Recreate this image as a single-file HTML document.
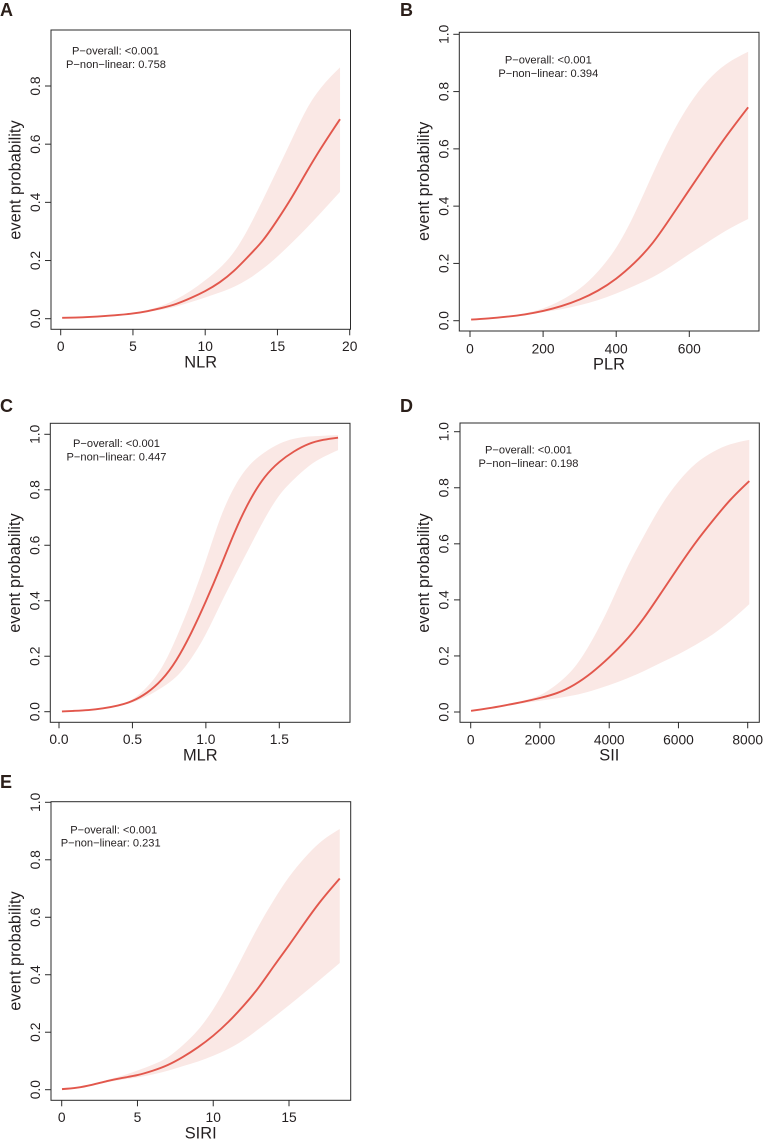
<!DOCTYPE html>
<html lang="en">
<head>
<meta charset="utf-8">
<title>Event probability spline panels</title>
<style>
html,body{margin:0;padding:0;background:#fff;width:763px;height:1144px;overflow:hidden}
svg{display:block}
text{font-family:"Liberation Sans",Arial,sans-serif;fill:#231f20}
.p{font-size:11.1px;text-anchor:middle}
.t{font-size:16.4px;text-anchor:middle}
.l{font-size:18px;font-weight:bold;fill:#2b1f1a}
</style>
</head>
<body>
<svg id="fig" width="763" height="1144" viewBox="0 0 763 1144" xmlns="http://www.w3.org/2000/svg">
<g id="panel-a">
<text class="l" x="0" y="16">A</text>
<text class="p" x="115.5" y="54.5">P−overall: &lt;0.001</text>
<text class="p" x="116" y="67.8">P−non−linear: 0.758</text>
<text class="t" x="200.7" y="367.5">NLR</text>
<text class="t" transform="translate(20.7 180) rotate(-90)">event probability</text>
</g>
<g id="panel-b">
<text class="l" x="400" y="16">B</text>
<text class="p" x="548.3" y="63.7">P−overall: &lt;0.001</text>
<text class="p" x="548.3" y="77">P−non−linear: 0.394</text>
<text class="t" x="609" y="369.5">PLR</text>
<text class="t" transform="translate(429 181.3) rotate(-90)">event probability</text>
</g>
<g id="panel-c">
<text class="l" x="0" y="412">C</text>
<text class="p" x="116.5" y="447">P−overall: &lt;0.001</text>
<text class="p" x="116.5" y="460.3">P−non−linear: 0.447</text>
<text class="t" x="200.3" y="760.7">MLR</text>
<text class="t" transform="translate(20 573) rotate(-90)">event probability</text>
</g>
<g id="panel-d">
<text class="l" x="400" y="412">D</text>
<text class="p" x="528.5" y="453.7">P−overall: &lt;0.001</text>
<text class="p" x="528.5" y="467">P−non−linear: 0.198</text>
<text class="t" x="609.3" y="760.7">SII</text>
<text class="t" transform="translate(429 573) rotate(-90)">event probability</text>
</g>
<g id="panel-e">
<text class="l" x="0" y="788">E</text>
<text class="p" x="113.7" y="833.3">P−overall: &lt;0.001</text>
<text class="p" x="110.7" y="846.7">P−non−linear: 0.231</text>
<text class="t" x="200.7" y="1138.7">SIRI</text>
<text class="t" transform="translate(20.7 951) rotate(-90)">event probability</text>
</g>
</svg>
<script>
// ---- data ----
const nlrX     = [0.1, 1, 2, 3, 4, 5, 6, 7, 8, 9, 10, 11, 12, 13, 14, 15, 16, 17, 18, 19.33];
const nlrMid   = [0.003, 0.004, 0.006, 0.009, 0.013, 0.018, 0.026, 0.037, 0.051, 0.071, 0.095, 0.125, 0.165, 0.215, 0.270, 0.340, 0.418, 0.503, 0.585, 0.686];
const nlrUpper = [0.003, 0.004, 0.006, 0.009, 0.014, 0.020, 0.030, 0.045, 0.067, 0.096, 0.132, 0.174, 0.230, 0.312, 0.410, 0.513, 0.617, 0.718, 0.793, 0.864];
const nlrLower = [0.003, 0.004, 0.006, 0.009, 0.012, 0.017, 0.023, 0.031, 0.042, 0.057, 0.073, 0.090, 0.110, 0.137, 0.172, 0.214, 0.261, 0.311, 0.364, 0.436];
const nlrXTicks = [0, 5, 10, 15, 20];
const nlrYTicks = [0, 0.2, 0.4, 0.6, 0.8];

const plrX     = [3, 50, 100, 150, 200, 250, 300, 350, 400, 450, 500, 550, 600, 650, 700, 761];
const plrMid   = [0.004, 0.008, 0.014, 0.022, 0.034, 0.051, 0.074, 0.105, 0.147, 0.202, 0.272, 0.362, 0.457, 0.551, 0.642, 0.745];
const plrUpper = [0.004, 0.008, 0.015, 0.026, 0.043, 0.072, 0.112, 0.172, 0.255, 0.373, 0.513, 0.645, 0.755, 0.838, 0.895, 0.939];
const plrLower = [0.004, 0.008, 0.013, 0.020, 0.030, 0.040, 0.054, 0.072, 0.095, 0.122, 0.152, 0.190, 0.233, 0.274, 0.314, 0.355];
const plrXTicks = [0, 200, 400, 600];
const plrYTicks = [0, 0.2, 0.4, 0.6, 0.8, 1];

const mlrX     = [0.02, 0.1, 0.2, 0.3, 0.4, 0.5, 0.6, 0.7, 0.8, 0.9, 1.0, 1.1, 1.2, 1.3, 1.4, 1.5, 1.6, 1.7, 1.8, 1.9];
const mlrMid   = [0.001, 0.003, 0.006, 0.012, 0.022, 0.039, 0.069, 0.116, 0.187, 0.284, 0.398, 0.523, 0.652, 0.762, 0.845, 0.900, 0.938, 0.965, 0.980, 0.988];
const mlrUpper = [0.001, 0.003, 0.006, 0.013, 0.024, 0.045, 0.090, 0.160, 0.268, 0.398, 0.545, 0.700, 0.815, 0.890, 0.935, 0.966, 0.984, 0.992, 0.995, 0.997];
const mlrLower = [0.001, 0.003, 0.006, 0.011, 0.020, 0.033, 0.056, 0.087, 0.127, 0.192, 0.280, 0.388, 0.493, 0.595, 0.695, 0.780, 0.838, 0.885, 0.918, 0.943];
const mlrXTicks = [0, 0.5, 1, 1.5];
const mlrYTicks = [0, 0.2, 0.4, 0.6, 0.8, 1];

const siiX     = [10, 500, 1000, 1500, 2000, 2500, 3000, 3500, 4000, 4500, 5000, 5500, 6000, 6500, 7000, 7500, 8046];
const siiMid   = [0.004, 0.013, 0.024, 0.036, 0.050, 0.068, 0.098, 0.141, 0.195, 0.258, 0.335, 0.425, 0.517, 0.605, 0.684, 0.757, 0.824];
const siiUpper = [0.004, 0.014, 0.026, 0.040, 0.060, 0.100, 0.160, 0.255, 0.375, 0.510, 0.628, 0.736, 0.822, 0.886, 0.928, 0.955, 0.971];
const siiLower = [0.004, 0.012, 0.022, 0.031, 0.040, 0.049, 0.060, 0.076, 0.096, 0.119, 0.146, 0.176, 0.206, 0.240, 0.278, 0.325, 0.385];
const siiXTicks = [0, 2000, 4000, 6000, 8000];
const siiYTicks = [0, 0.2, 0.4, 0.6, 0.8, 1];

const siriX     = [0.02, 1, 2, 3, 4, 5, 6, 7, 8, 9, 10, 11, 12, 13, 14, 15, 16, 17, 18.35];
const siriMid   = [0.002, 0.007, 0.017, 0.030, 0.041, 0.051, 0.066, 0.086, 0.114, 0.148, 0.188, 0.236, 0.292, 0.356, 0.430, 0.503, 0.578, 0.650, 0.735];
const siriUpper = [0.002, 0.007, 0.018, 0.034, 0.049, 0.067, 0.087, 0.113, 0.155, 0.208, 0.280, 0.370, 0.470, 0.570, 0.660, 0.740, 0.805, 0.858, 0.907];
const siriLower = [0.002, 0.007, 0.016, 0.026, 0.035, 0.043, 0.053, 0.066, 0.082, 0.098, 0.118, 0.142, 0.173, 0.211, 0.252, 0.294, 0.337, 0.381, 0.441];
const siriXTicks = [0, 5, 10, 15];
const siriYTicks = [0, 0.2, 0.4, 0.6, 0.8, 1];

// ---- layout: plot box, and two calibration anchors per axis ----
const layouts = [
  {id:'panel-a', key:'a', box:[51,30,350.5,329.3],  xa:[0,60.7,20,349.7],      ya:[0,318.7,0.8,86],    xLab:350.8,  yLab:40,    dec:0},
  {id:'panel-b', key:'b', box:[459.3,32.3,759,331], xa:[0,470,600,689.3],      ya:[0,320.7,1,34.3],    xLab:353.3,  yLab:448.3, dec:0},
  {id:'panel-c', key:'c', box:[50.3,423.3,350,722.3], xa:[0,59,1.5,279.3],     ya:[0,711.7,1,434.3],   xLab:744,    yLab:39.3,  dec:1},
  {id:'panel-d', key:'d', box:[460,423,759.3,722.3],  xa:[0,470.7,8000,747.7], ya:[0,712,1,431.7],     xLab:744.3,  yLab:448.3, dec:0},
  {id:'panel-e', key:'e', box:[51,801.7,350.7,1100.3], xa:[0,61.7,15,289],     ya:[0,1089.7,1,802.3],  xLab:1122,   yLab:40,    dec:0}
];
const series = [
  {x:nlrX,  mid:nlrMid,  up:nlrUpper,  lo:nlrLower,  xt:nlrXTicks,  yt:nlrYTicks},
  {x:plrX,  mid:plrMid,  up:plrUpper,  lo:plrLower,  xt:plrXTicks,  yt:plrYTicks},
  {x:mlrX,  mid:mlrMid,  up:mlrUpper,  lo:mlrLower,  xt:mlrXTicks,  yt:mlrYTicks},
  {x:siiX,  mid:siiMid,  up:siiUpper,  lo:siiLower,  xt:siiXTicks,  yt:siiYTicks},
  {x:siriX, mid:siriMid, up:siriUpper, lo:siriLower, xt:siriXTicks, yt:siriYTicks}
];

const NS = 'http://www.w3.org/2000/svg';
function make(tag, attrs, parent, before) {
  const el = document.createElementNS(NS, tag);
  for (const k in attrs) el.setAttribute(k, attrs[k]);
  if (before) parent.insertBefore(el, before); else parent.appendChild(el);
  return el;
}
function linear(a) {
  const m = (a[3] - a[1]) / (a[2] - a[0]);
  return v => a[1] + (v - a[0]) * m;
}
// natural cubic spline through the points, emitted as Bezier segments
function smooth(pts, start) {
  const n = pts.length;
  const h = [], d = [];
  for (let i = 0; i < n - 1; i++) {
    h.push(pts[i + 1][0] - pts[i][0]);
    d.push((pts[i + 1][1] - pts[i][1]) / h[i]);
  }
  const a = new Array(n).fill(0), b = new Array(n).fill(0), c = new Array(n).fill(0), r = new Array(n).fill(0);
  b[0] = 2; c[0] = 1; r[0] = 3 * d[0];
  for (let i = 1; i < n - 1; i++) {
    a[i] = h[i];
    b[i] = 2 * (h[i - 1] + h[i]);
    c[i] = h[i - 1];
    r[i] = 3 * (h[i] * d[i - 1] + h[i - 1] * d[i]);
  }
  a[n - 1] = 1; b[n - 1] = 2; r[n - 1] = 3 * d[n - 2];
  for (let i = 1; i < n; i++) {
    const w = a[i] / b[i - 1];
    b[i] -= w * c[i - 1];
    r[i] -= w * r[i - 1];
  }
  const m = new Array(n);
  m[n - 1] = r[n - 1] / b[n - 1];
  for (let i = n - 2; i >= 0; i--) m[i] = (r[i] - c[i] * m[i + 1]) / b[i];
  let path = (start ? 'M' : 'L') + pts[0][0].toFixed(2) + ' ' + pts[0][1].toFixed(2);
  for (let i = 0; i < n - 1; i++) {
    path += 'C' + (pts[i][0] + h[i] / 3).toFixed(2) + ' ' + (pts[i][1] + m[i] * h[i] / 3).toFixed(2) + ' ' +
            (pts[i + 1][0] - h[i] / 3).toFixed(2) + ' ' + (pts[i + 1][1] - m[i + 1] * h[i] / 3).toFixed(2) + ' ' +
            pts[i + 1][0].toFixed(2) + ' ' + pts[i + 1][1].toFixed(2);
  }
  return path;
}

layouts.forEach((L, idx) => {
  const S = series[idx];
  const g = document.getElementById(L.id);
  const first = g.firstChild;
  const sx = linear(L.xa), sy = linear(L.ya);
  const upPts = S.x.map((v, i) => [sx(v), sy(S.up[i])]);
  const loPts = S.x.map((v, i) => [sx(v), sy(S.lo[i])]).reverse();
  const midPts = S.x.map((v, i) => [sx(v), sy(S.mid[i])]);

  const band = make('path', {d: smooth(upPts, true) + smooth(loPts, false) + 'Z', fill: '#fae8e5', stroke: 'none'}, g, first);
  
  

  const line = make('path', {d: smooth(midPts, true), fill: 'none', stroke: '#e2574c', 'stroke-width': 1.9}, g, first);
  
  

  const b = L.box;
  const box = make('rect', {x: b[0], y: b[1], width: b[2] - b[0], height: b[3] - b[1], fill: 'none', stroke: '#2b2b2b', 'stroke-width': 1}, g, first);
  
  

  S.xt.forEach(v => {
    const px = sx(v);
    const tick = make('line', {x1: px, x2: px, y1: b[3], y2: b[3] + 6, stroke: '#2b2b2b', 'stroke-width': 1}, g);
    
    
    const lab = make('text', {x: px, y: L.xLab, 'font-size': 13.8, 'text-anchor': 'middle'}, g);
    lab.textContent = v.toFixed(L.dec);
    
    
  });
  S.yt.forEach(v => {
    const py = sy(v);
    const tick = make('line', {x1: b[0] - 6, x2: b[0], y1: py, y2: py, stroke: '#2b2b2b', 'stroke-width': 1}, g);
    
    
    const lab = make('text', {transform: 'translate(' + L.yLab + ' ' + py + ') rotate(-90)', 'font-size': 13.8, 'text-anchor': 'middle'}, g);
    lab.textContent = v.toFixed(1);
    
    
  });
});
</script>
</body>
</html>
